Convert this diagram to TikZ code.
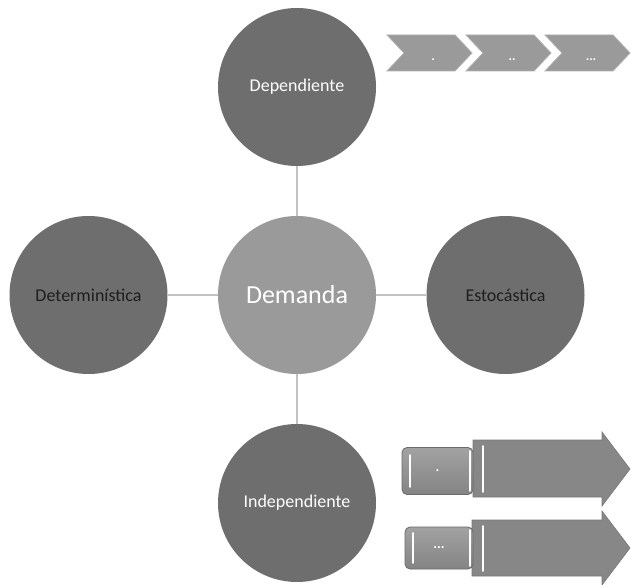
\documentclass[tikz,border=0pt]{standalone}
\usepackage{fontspec}
\setmainfont{Carlito}
\definecolor{circdark}{HTML}{6E6E6E}
\definecolor{circmid}{HTML}{9A9A9A}
\definecolor{linegray}{HTML}{C2C2C2}
\definecolor{chevgray}{HTML}{9A9A9A}
\definecolor{chevedge}{HTML}{B0B0B0}
\definecolor{arrgray}{HTML}{878787}
\definecolor{arredge}{HTML}{787878}
\definecolor{recttop}{HTML}{A2A2A2}
\definecolor{rectbot}{HTML}{848484}
\definecolor{rectedge}{HTML}{6A6A6A}
\definecolor{darktext}{HTML}{1E1E1E}
\begin{document}
\begin{tikzpicture}[x=1pt,y=-1pt,
  bubble/.style={circle, minimum size=158pt, inner sep=0pt, fill=circdark,
                 font=\fontsize{18}{20}\selectfont},
  link/.style={draw=linegray, line width=2.5pt},
  chev/.style={fill=chevgray, draw=chevedge, line width=0.8pt},
  chevlabel/.style={text=white, font=\bfseries\fontsize{13}{14}\selectfont, inner sep=0pt, anchor=base},
  bigarrow/.style={fill=arrgray, draw=arredge, line width=0.6pt},
  tab/.style={rounded corners=5pt, top color=recttop, bottom color=rectbot, draw=rectedge,
              line width=0.8pt, inner sep=0pt, text=white, font=\bfseries\fontsize{14}{16}\selectfont},
  shine/.style={draw=white, line width=1.8pt, line cap=round}
]
\useasboundingbox (0,0) rectangle (631,585);
\fill[white] (0,0) rectangle (631,585);

% circles
\node[bubble, text=white] (dep) at (297,87) {Dependiente};
\node[bubble, fill=circmid, text=white, font=\fontsize{26}{30}\selectfont] (dem) at (297,295) {Demanda};
\node[bubble, text=darktext] (det) at (88.5,295) {Determinística};
\node[bubble, text=darktext] (est) at (505.5,295) {Estocástica};
\node[bubble, text=white] (ind) at (297,503) {Independiente};

% connectors
\draw[link] (dep) -- (dem);
\draw[link] (dem) -- (ind);
\draw[link] (det) -- (dem);
\draw[link] (dem) -- (est);

% chevrons
\draw[chev] (387,35) -- (455,35) -- (472,53) -- (455,71) -- (387,71) -- (404,53) -- cycle;
\draw[chev] (466,35) -- (534,35) -- (551,53) -- (534,71) -- (466,71) -- (483,53) -- cycle;
\draw[chev] (545,35) -- (613,35) -- (630,53) -- (613,71) -- (545,71) -- (562,53) -- cycle;
\node[chevlabel] (c1) at (433,61) {.};
\node[chevlabel] (c2) at (512,61) {..};
\node[chevlabel] (c3) at (591,61) {...};

% bottom arrows
\draw[bigarrow] (473,440) -- (602,440) -- (602,432) -- (630,469) -- (602,506) -- (602,497) -- (473,497) -- cycle;
\draw[bigarrow] (472,520) -- (602,520) -- (602,511) -- (630,548) -- (602,585) -- (602,576) -- (472,576) -- cycle;

% tabs
\node[tab, minimum width=71pt, minimum height=47pt] (t1) at (437.5,471) {.};
\node[tab, minimum width=68pt, minimum height=42pt] (t2) at (439,548) {...};

% highlights
\draw[shine] (410,455) -- (410,487);
\draw[shine] (470,451) -- (470,491);
\draw[shine] (483,446) -- (483,492);
\draw[shine] (413,533) -- (413,563);
\draw[shine] (470,530) -- (470,566);
\draw[shine] (483,526) -- (483,571);
\end{tikzpicture}
\end{document}
